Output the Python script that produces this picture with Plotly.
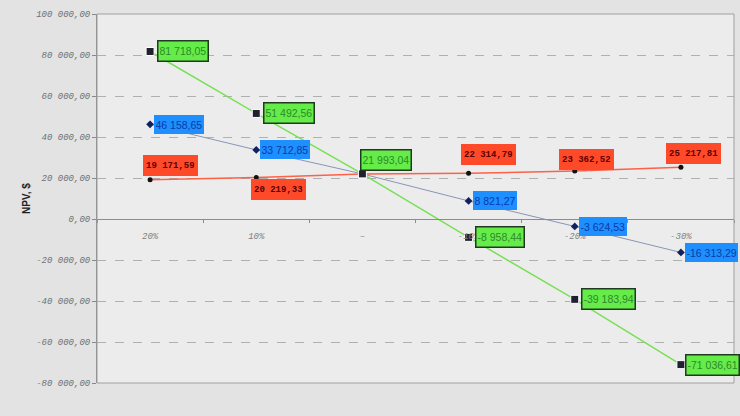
import plotly.graph_objects as go

categories = ["20%", "10%", "–", "-10%", "-20%", "-30%"]
green_values = [81718.05, 51492.56, 21993.04, -8958.44, -39183.94, -71036.61]
blue_values = [46158.65, 33712.85, 21993.04, 8821.27, -3624.53, -16313.29]
red_values = [19171.59, 20219.33, 21993.04, 22314.79, 23362.52, 25217.81]
y_tick_values = [100000, 80000, 60000, 40000, 20000, 0, -20000, -40000, -60000, -80000]
y_tick_labels = ["100 000,00", "80 000,00", "60 000,00", "40 000,00", "20 000,00",
                 "0,00", "-20 000,00", "-40 000,00", "-60 000,00", "-80 000,00"]


def fmt(v):
    s = f"{abs(v):,.2f}".replace(",", " ").replace(".", ",")
    return ("-" if v < 0 else "") + s


fig = go.Figure()

fig.add_trace(go.Scatter(x=categories, y=red_values, mode="lines+markers",
                         line=dict(color="#ff6048", width=1.5),
                         marker=dict(symbol="circle", size=5, color="#111111")))
fig.add_trace(go.Scatter(x=categories, y=blue_values, mode="lines+markers",
                         line=dict(color="#8a96b8", width=1),
                         marker=dict(symbol="diamond", size=6, color="#102060")))
fig.add_trace(go.Scatter(x=categories, y=green_values, mode="lines+markers",
                         line=dict(color="#77e055", width=1.5),
                         marker=dict(symbol="square", size=8, color="#202030",
                                     line=dict(color="#ffffff", width=1))))

# label placement styles (per point): (xanchor, yanchor, xshift, yshift) or None
green_place = [("left", "middle", 7, 0), ("left", "middle", 7, 0), ("left", "bottom", -2, 3),
               ("left", "middle", 6, 0), ("left", "middle", 6, 0), ("left", "middle", 4, 0)]
blue_place = [("left", "middle", 4, 0), ("left", "middle", 4, 0), None,
              ("left", "middle", 4, 0), ("left", "middle", 4, 0), ("left", "middle", 4, 0)]
red_place = [("left", "bottom", -7, 4), ("left", "top", -5, -1), None,
             ("left", "bottom", -8, 8), ("left", "bottom", -16, 1), ("left", "bottom", -15, 3)]

annos = []
for vals, place, style in [
    (red_values, red_place, dict(bgcolor="#ff4a2a", font=dict(family="Liberation Mono", size=9, color="#5a0000", weight="bold"),
                                 height=15, borderpad=3, borderwidth=0)),
    (blue_values, blue_place, dict(bgcolor="#1e8fff", font=dict(family="Liberation Sans", size=10.5, color="#0b3aa8"),
                                   height=16, borderpad=1.5, borderwidth=0)),
    (green_values, green_place, dict(bgcolor="#66ec48", font=dict(family="Liberation Sans", size=10.5, color="#2a8a2a"),
                                     bordercolor="#1f3a1f", height=17, borderpad=1, borderwidth=1.5)),
]:
    for c, v, p in zip(categories, vals, place):
        if p is None:
            continue
        xa, ya, xs, ys = p
        annos.append(dict(x=c, y=v, xref="x", yref="y", text=fmt(v), showarrow=False,
                          xanchor=xa, yanchor=ya, xshift=xs, yshift=ys, **style))

fig.update_layout(
    width=740, height=416,
    margin=dict(l=97, r=6, t=14, b=33),
    paper_bgcolor="#e3e3e3",
    plot_bgcolor="#ececec",
    showlegend=False,
    annotations=annos,
    shapes=[dict(type="rect", xref="paper", yref="paper", x0=0, x1=1, y0=0, y1=1,
                 line=dict(color="#a0a0a0", width=1), layer="above")],
    xaxis=dict(type="category", categoryorder="array", categoryarray=categories,
               range=[-0.5, 5.5], anchor="free", position=(0 - (-80000)) / 180000,
               showline=True, linecolor="#8c8c8c", linewidth=1,
               ticks="outside", tickson="boundaries", ticklen=3, tickcolor="#8c8c8c",
               showgrid=False, ticklabelstandoff=8, automargin=False,
               tickfont=dict(family="Liberation Mono", size=9, color="#808080", style="italic")),
    yaxis=dict(range=[-80000, 100000], tickvals=y_tick_values, ticktext=y_tick_labels,
               showline=True, linecolor="#888888", linewidth=1, automargin=False,
               ticks="outside", ticklen=4, tickcolor="#888888",
               showgrid=True, gridcolor="#b0b0b0", griddash="dash", gridwidth=1,
               zeroline=False,
               tickfont=dict(family="Liberation Mono", size=9, color="#707070", style="italic"),
               title=dict(text="NPV, $", standoff=3,
                          font=dict(family="Liberation Sans", size=10, color="#222222", weight="bold"))),
)

fig.write_html("out.html", config={"displayModeBar": False},
               post_script="document.body.style.margin='0';document.body.style.background='#e3e3e3';")
